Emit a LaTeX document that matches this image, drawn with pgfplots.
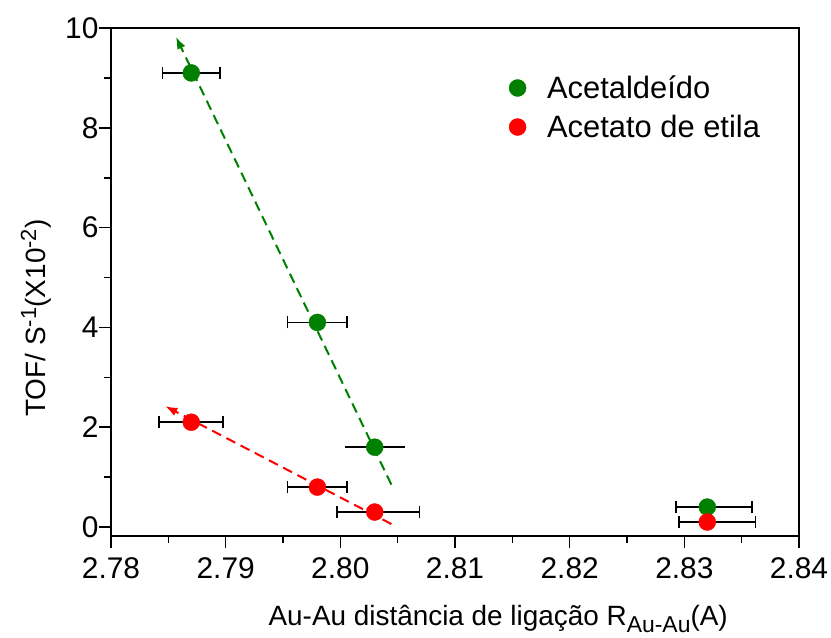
\documentclass[border=0pt]{standalone}
\usepackage{amsmath}
\usepackage{pgfplots}
\pgfplotsset{compat=1.18}
\usetikzlibrary{arrows.meta}
\usepackage{fontspec}
\setmainfont{Liberation Sans}
\definecolor{cgreen}{RGB}{0,128,0}
\definecolor{cred}{RGB}{255,0,0}
\begin{document}
\begin{tikzpicture}
\begin{axis}[
  scale only axis, width=688bp, height=508bp,
  xmin=2.78, xmax=2.84, ymin=-0.18, ymax=10,
  axis line style={line width=1.6bp},
  xtick={2.78,2.79,2.80,2.81,2.82,2.83,2.84},
  xticklabels={2.78,2.79,2.80,2.81,2.82,2.83,2.84},
  minor xtick={2.785,2.795,2.805,2.815,2.825,2.835},
  ytick={0,2,4,6,8,10},
  minor ytick={1,3,5,7,9},
  tick align=outside, xtick pos=bottom, ytick pos=left,
  major tick length=12bp, minor tick length=7bp,
  every tick/.style={line width=1.6bp, black},
  /pgf/number format/assume math mode=true,
  tick label style={font=\fontsize{30}{34}\selectfont},
  xticklabel style={yshift=-6bp},
  yticklabel style={xshift=3bp},
  xlabel={Au-Au distância de ligação R\raisebox{-7bp}{\fontsize{23}{24}\selectfont Au-Au}(A)},
  ylabel={TOF/ S$^{\text{\fontsize{22}{24}\selectfont -1}}$(X10$^{\text{\fontsize{22}{24}\selectfont -2}}$)},
  xlabel style={at={(axis description cs:0.224,-0.1752)}, anchor=base west, font=\fontsize{28}{32}\selectfont},
  ylabel style={at={(axis description cs:-0.0959,0.228)}, anchor=base west, font=\fontsize{28}{32}\selectfont},
  legend style={draw=none, fill=none, at={(rel axis cs:0.574,0.914)}, anchor=north west,
    font=\fontsize{31}{35}\selectfont, row sep=11bp, column sep=19bp},
  legend cell align=left,
  error bars/error bar style={line width=1.8bp, black},
  error bars/error mark options={rotate=90, mark size=6bp, line width=1.8bp, black},
]
% trend lines
\addplot[forget plot, cgreen, line width=2bp, dash pattern=on 10bp off 6bp, -{Latex[length=12bp,width=9bp]}] coordinates {(2.80445,0.85) (2.78567,9.82)};
\addplot[forget plot, cred, line width=2bp, dash pattern=on 10bp off 6bp, -{Latex[length=12bp,width=9bp]}] coordinates {(2.80445,0.06) (2.78474,2.42)};
% green
\addplot[only marks, mark=*, mark size=8.5bp, color=cgreen,
  error bars/.cd, x dir=both, x explicit]
  coordinates {
  (2.787,9.1) +- (0.0025,0)
  (2.798,4.1) +- (0.0026,0)
  (2.832,0.4) +- (0.0039,0) -= (0.0027,0)
  };
\addlegendentry{Acetaldeído}
% red
\addplot[only marks, mark=*, mark size=8.5bp, color=cred,
  error bars/.cd, x dir=both, x explicit]
  coordinates {
  (2.787,2.1) +- (0.0028,0)
  (2.798,0.8) +- (0.0026,0)
  (2.803,0.3) +- (0.0039,0) -= (0.0033,0)
  (2.832,0.1) +- (0.0042,0) -= (0.0025,0)
  };
\addlegendentry{Acetato de etila}
% green point without caps
\addplot[forget plot, only marks, mark=*, mark size=8.5bp, color=cgreen,
  error bars/.cd, x dir=both, x explicit, error mark=none]
  coordinates {(2.803,1.6) +- (0.0026,0)};
\end{axis}
\pgfresetboundingbox
\useasboundingbox (-111bp,-102bp) rectangle (720bp,536bp);
\end{tikzpicture}
\end{document}
